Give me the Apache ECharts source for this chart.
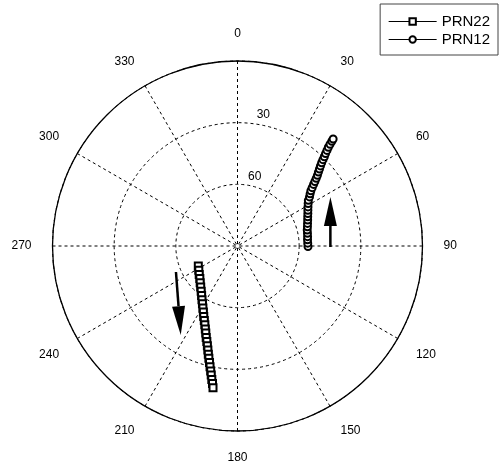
<!DOCTYPE html>
<html><head><meta charset="utf-8">
<script src="https://cdn.jsdelivr.net/npm/echarts@6/dist/echarts.min.js"></script>
<style>html,body{margin:0;padding:0;background:#fff}#c{width:502px;height:469px}</style>
</head><body><div id="c"></div>
<script>
// azimuth ticks (deg) and elevation rings (deg)
const azimuthTicks = [0, 30, 60, 90, 120, 150, 180, 210, 240, 270, 300, 330];
const elevationRingLabels = [30, 60];

// PRN22 track (azimuth deg, elevation deg)
const prn22Azimuth = [243.0, 238.0, 233.4, 229.2, 225.4, 221.9, 218.8, 216.0, 213.5, 211.2, 209.2, 207.3, 205.6, 204.0, 202.5, 201.2, 200.0, 198.9, 197.8, 196.8, 195.9, 195.1, 194.3, 193.5, 192.8, 192.1, 191.5, 190.9, 190.3, 189.8];
const prn22Elevation = [68.6, 67.8, 66.8, 65.8, 64.5, 63.2, 61.8, 60.3, 58.7, 57.1, 55.5, 53.8, 52.0, 50.3, 48.5, 46.7, 44.9, 43.0, 41.2, 39.3, 37.4, 35.5, 33.6, 31.7, 29.7, 27.8, 25.9, 23.9, 22.0, 20.0];

// PRN12 track (azimuth deg, elevation deg)
const prn12Azimuth = [90.4, 87.7, 85.0, 82.4, 79.7, 77.1, 74.6, 72.1, 69.7, 67.4, 65.2, 63.1, 61.0, 59.0, 57.2, 55.7, 54.3, 53.0, 52.0, 51.0, 50.2, 49.3, 48.5, 47.6, 46.8, 46.0, 45.3, 44.7, 44.2, 43.6, 43.1, 42.6, 42.3, 42.0, 41.8];
const prn12Elevation = [55.7, 55.8, 55.8, 55.6, 55.4, 55.2, 54.7, 54.2, 53.6, 53.0, 52.3, 51.6, 50.8, 49.9, 49.0, 47.6, 46.5, 45.3, 43.9, 42.4, 41.0, 39.5, 38.1, 36.7, 35.3, 33.9, 32.4, 30.9, 29.4, 27.9, 26.3, 24.7, 23.1, 21.4, 20.2];

// direction arrows: start/end (elevation, azimuth)
const arrowStartElevation = [44.8, 57.5];
const arrowStartAzimuth = [90.6, 247.1];
const arrowEndElevation = [38.9, 38.6];
const arrowEndAzimuth = [62.2, 212.5];

const seriesNames = ['PRN22', 'PRN12'];

const toPairs = (el, az) => el.map((e, i) => [e, az[i]]);
const arrowData = arrowStartElevation.map((e, i) => [e, arrowStartAzimuth[i], arrowEndElevation[i], arrowEndAzimuth[i]]);

const font = 'Liberation Sans, Arial, sans-serif';
const chart = echarts.init(document.getElementById('c'), null, {renderer: 'canvas'});
chart.setOption({
  animation: false,
  backgroundColor: '#fff',
  polar: [
    {center: [237.5, 246], radius: 185},
    {center: [237.5, 246], radius: 185}
  ],
  angleAxis: [
    {
      polarIndex: 0, type: 'value', min: 0, max: 360, interval: 30,
      startAngle: 90, clockwise: true,
      axisLine: {show: true, lineStyle: {color: '#000', width: 1.3}},
      axisTick: {show: false},
      splitLine: {show: true, lineStyle: {color: '#000', width: 1, type: [3, 3]}},
      axisLabel: {
        show: true, margin: 21, color: '#000', fontSize: 12, fontFamily: font,
        formatter: v => (azimuthTicks.indexOf(v) >= 0 ? String(v) : '')
      }
    },
    {polarIndex: 1, type: 'value', min: 0, max: 360, startAngle: 82, clockwise: true, show: false}
  ],
  radiusAxis: [
    {
      polarIndex: 0, type: 'value', min: 0, max: 90, interval: 30, inverse: true,
      axisLine: {show: false}, axisTick: {show: false}, axisLabel: {show: false},
      splitLine: {show: true, lineStyle: {color: '#000', width: 1, type: [3, 3]}}
    },
    {
      polarIndex: 1, type: 'value', min: 0, max: 90, interval: 30, inverse: true,
      axisLine: {show: false}, axisTick: {show: false}, splitLine: {show: false},
      axisLabel: {
        show: true, margin: -2, align: 'left', verticalAlign: 'bottom',
        padding: [0, 0, 3, 0],
        color: '#000', fontSize: 12, fontFamily: font,
        formatter: v => (elevationRingLabels.indexOf(v) >= 0 ? String(v) : '')
      }
    }
  ],
  legend: {
    data: seriesNames,
    orient: 'vertical', right: 4, top: 4,
    itemWidth: 48, itemHeight: 8, itemGap: 3,
    padding: [10, 8, 8, 8],
    borderColor: '#444', borderWidth: 1,
    lineStyle: {width: 1},
    itemStyle: {borderWidth: 1},
    textStyle: {color: '#000', fontSize: 15, fontFamily: font}
  },
  series: [
    {
      name: seriesNames[0], type: 'line', coordinateSystem: 'polar', polarIndex: 0,
      data: toPairs(prn22Elevation, prn22Azimuth),
      symbol: 'emptyRect', symbolSize: 7, color: '#000',
      lineStyle: {color: '#000', width: 1},
      itemStyle: {color: '#000', borderWidth: 1}
    },
    {
      name: seriesNames[1], type: 'line', coordinateSystem: 'polar', polarIndex: 0,
      data: toPairs(prn12Elevation, prn12Azimuth),
      symbol: 'emptyCircle', symbolSize: 7, color: '#000',
      lineStyle: {color: '#000', width: 1},
      itemStyle: {color: '#000', borderWidth: 1}
    },
    {
      name: 'arrows', type: 'custom', coordinateSystem: 'polar', polarIndex: 0,
      data: arrowData, silent: true,
      renderItem: (params, api) => {
        const p0 = api.coord([api.value(0), api.value(1)]);
        const p1 = api.coord([api.value(2), api.value(3)]);
        const dx = p1[0] - p0[0], dy = p1[1] - p0[1];
        const len = Math.hypot(dx, dy);
        const ux = dx / len, uy = dy / len;
        const headLen = 29, headW = 6.5;
        const bx = p1[0] - ux * headLen, by = p1[1] - uy * headLen;
        const nx = -uy, ny = ux;
        return {
          type: 'group',
          children: [
            {type: 'line', shape: {x1: p0[0], y1: p0[1], x2: bx, y2: by}, style: {stroke: '#000', lineWidth: 2.5}},
            {type: 'polygon', shape: {points: [[p1[0], p1[1]], [bx + nx * headW, by + ny * headW], [bx - nx * headW, by - ny * headW]]}, style: {fill: '#000'}}
          ]
        };
      }
    }
  ]
});
</script>
</body></html>
